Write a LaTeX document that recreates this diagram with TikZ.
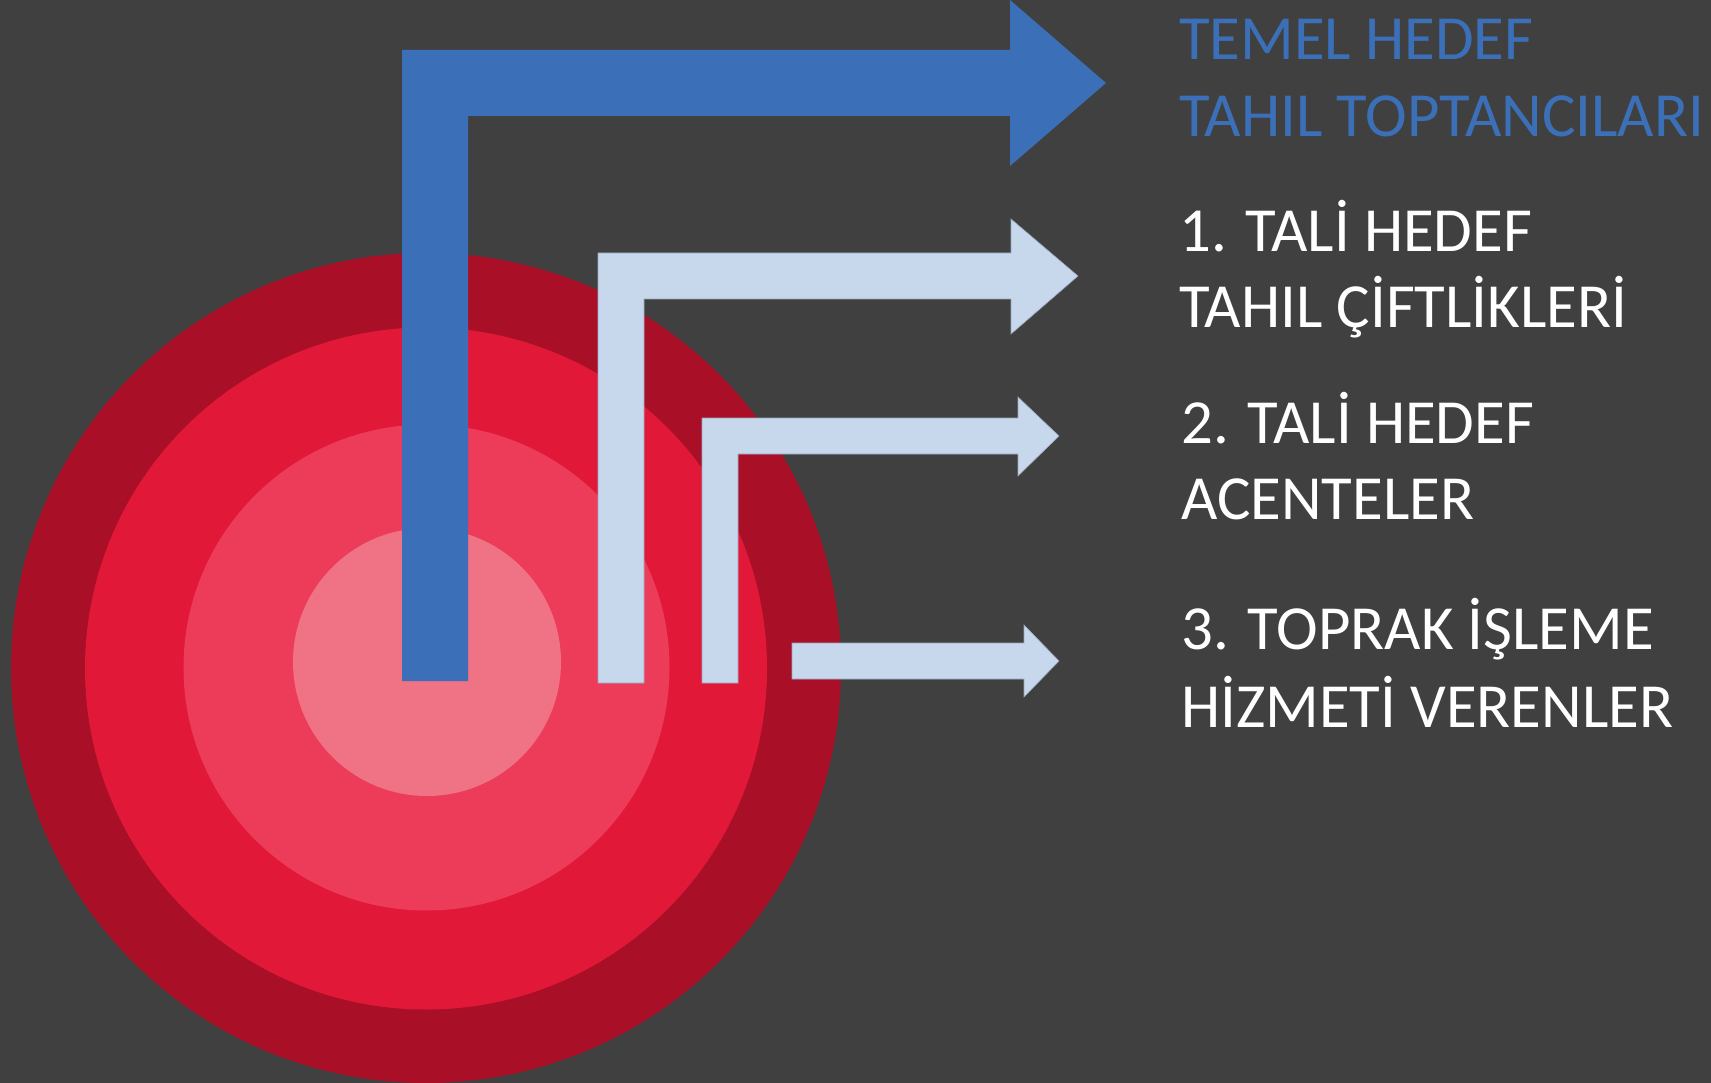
\documentclass[tikz,border=0pt]{standalone}
\usepackage{fontspec}
\setmainfont{Carlito}
\definecolor{bg}{RGB}{64,64,64}
\definecolor{ringA}{RGB}{169,16,40}
\definecolor{ringB}{RGB}{226,24,56}
\definecolor{ringC}{RGB}{236,60,90}
\definecolor{ringD}{RGB}{240,114,133}
\definecolor{tblue}{RGB}{59,112,185}
\definecolor{lblue}{RGB}{199,216,237}
\definecolor{ledge}{RGB}{150,166,190}
\tikzset{
  lbl/.style={inner sep=0pt, anchor=base west, font=\fontsize{62.8}{76}\selectfont},
  mainarrow/.style={fill=tblue},
  subarrow/.style={fill=lblue, draw=ledge, line width=0.6pt, line join=miter}
}
\begin{document}
\begin{tikzpicture}[x=1pt,y=-1pt]
\useasboundingbox (0,0) rectangle (1711,1083);
\clip (0,0) rectangle (1711,1083);
\fill[bg] (0,0) rectangle (1711,1083);
% target rings
\fill[ringA] (426,668) circle[radius=415];
\fill[ringB] (426,668.5) circle[radius=341];
\fill[ringC] (426.5,667.5) circle[radius=243];
\fill[ringD] (427,662) circle[radius=134];
% main arrow
\fill[mainarrow] (402,681) -- (402,50) -- (1010,50) -- (1010,0) -- (1106,83)
  -- (1010,166) -- (1010,116) -- (468,116) -- (468,681) -- cycle;
% sub arrow 1
\filldraw[subarrow] (598,683) -- (598,253) -- (1011,253) -- (1011,219) -- (1078,276)
  -- (1011,334) -- (1011,299) -- (644,299) -- (644,683) -- cycle;
% sub arrow 2
\filldraw[subarrow] (702,683) -- (702,418) -- (1018,418) -- (1018,397) -- (1059,436)
  -- (1018,476) -- (1018,454) -- (738,454) -- (738,683) -- cycle;
% sub arrow 3
\filldraw[subarrow] (792,643) -- (1024,643) -- (1024,625) -- (1059,661)
  -- (1024,697) -- (1024,679) -- (792,679) -- cycle;
% labels
\node[lbl, text=tblue] (t0a) at (1179,60) {TEMEL HEDEF};
\node[lbl, text=tblue] (t0b) at (1179,137) {TAHIL TOPTANCILARI};
\node[lbl, text=white] (t1a) at (1179,252) {1. TALİ HEDEF};
\node[lbl, text=white] (t1b) at (1179,328) {TAHIL ÇİFTLİKLERİ};
\node[lbl, text=white] (t2a) at (1181,443) {2. TALİ HEDEF};
\node[lbl, text=white] (t2b) at (1181,519) {ACENTELER};
\node[lbl, text=white] (t3a) at (1181,649) {3. TOPRAK İŞLEME};
\node[lbl, text=white] (t3b) at (1181,727) {HİZMETİ VERENLER};
\end{tikzpicture}
\end{document}
